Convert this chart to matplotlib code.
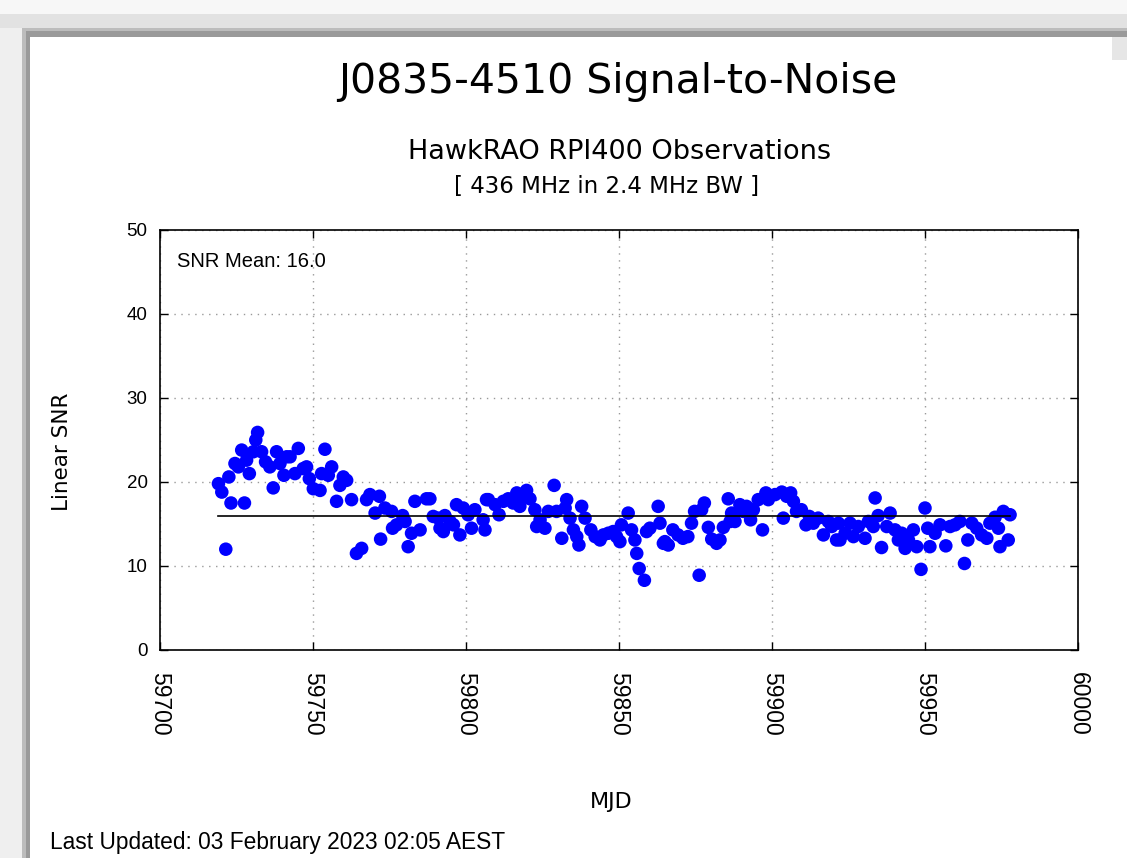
import matplotlib
matplotlib.use("Agg")
import matplotlib.pyplot as plt
from matplotlib.patches import Rectangle

# Observation epochs (MJD) and linear signal-to-noise ratio
mjd = [
    59719.1, 59720.2, 59721.5, 59722.5, 59723.2, 59724.5, 59725.6, 59726.7, 59727.6, 59728.3,
    59729.2, 59730.5, 59731.3, 59731.9, 59733.2, 59734.5, 59735.9, 59737.0, 59738.1, 59739.2,
    59740.5, 59741.4, 59742.5, 59744.1, 59745.2, 59746.8, 59747.9, 59748.8, 59750.1, 59752.3,
    59753.9, 59756.1, 59752.8, 59755.0, 59758.8, 59759.9, 59761.0, 59757.7, 59762.6, 59764.2,
    59765.9, 59767.5, 59768.6, 59770.3, 59771.7, 59772.1, 59773.5, 59775.7, 59776.0, 59777.3,
    59779.3, 59780.1, 59781.1, 59782.2, 59783.3, 59785.0, 59787.1, 59788.2, 59789.3, 59790.9,
    59791.5, 59792.6, 59793.1, 59794.8, 59795.9, 59796.9, 59798.0, 59799.1, 59800.7, 59801.8,
    59802.9, 59805.6, 59806.2, 59806.7, 59807.3, 59809.5, 59810.8, 59812.2, 59813.8, 59815.4,
    59816.6, 59817.6, 59818.7, 59819.8, 59820.9, 59822.5, 59823.1, 59824.2, 59825.8, 59826.9,
    59828.8, 59829.6, 59831.3, 59832.4, 59832.9, 59834.0, 59835.1, 59836.2, 59836.9, 59837.8,
    59838.9, 59840.8, 59842.2, 59843.8, 59844.9, 59846.5, 59848.1, 59849.2, 59850.3, 59850.8,
    59853.0, 59854.1, 59855.2, 59855.8, 59856.6, 59858.3, 59859.0, 59860.1, 59862.8, 59863.4,
    59864.5, 59865.0, 59866.1, 59867.6, 59869.3, 59870.9, 59872.5, 59873.7, 59874.7, 59876.2,
    59877.0, 59877.9, 59879.2, 59880.3, 59881.9, 59883.0, 59884.1, 59885.7, 59886.3, 59886.8,
    59887.9, 59889.5, 59890.6, 59891.7, 59893.0, 59893.9, 59895.5, 59896.9, 59898.0, 59898.8,
    59901.0, 59903.2, 59903.7, 59904.8, 59906.1, 59907.0, 59908.0, 59909.6, 59911.1, 59912.2,
    59913.5, 59915.1, 59916.8, 59918.4, 59919.5, 59921.1, 59921.7, 59922.2, 59923.9, 59925.5,
    59926.6, 59928.2, 59930.4, 59931.5, 59933.1, 59933.7, 59934.7, 59935.8, 59937.5, 59938.6,
    59940.2, 59941.3, 59942.4, 59943.5, 59944.6, 59946.2, 59947.3, 59948.7, 59950.0, 59950.9,
    59951.6, 59953.3, 59954.9, 59956.8, 59958.2, 59959.8, 59961.4, 59962.9, 59964.0, 59965.3,
    59966.9, 59968.5, 59970.2, 59971.2, 59972.9, 59974.0, 59974.5, 59975.6, 59977.2, 59977.8,
]
snr = [
    19.8, 18.8, 12.0, 20.6, 17.5, 22.2, 21.8, 23.8, 17.5, 22.6,
    21.0, 23.6, 25.0, 25.9, 23.6, 22.4, 21.8, 19.3, 23.6, 22.2,
    20.8, 23.0, 23.0, 21.0, 24.0, 21.6, 21.8, 20.4, 19.2, 19.0,
    23.9, 21.8, 21.0, 20.8, 19.6, 20.6, 20.2, 17.7, 17.9, 11.5,
    12.1, 17.9, 18.5, 16.3, 18.3, 13.2, 16.9, 16.5, 14.5, 14.9,
    16.0, 15.3, 12.3, 13.9, 17.7, 14.3, 18.0, 18.0, 15.9, 15.7,
    14.5, 14.1, 16.0, 15.3, 14.9, 17.3, 13.7, 16.9, 16.1, 14.5,
    16.7, 15.5, 14.3, 17.9, 17.9, 17.3, 16.1, 17.7, 18.0, 17.5,
    18.7, 17.1, 18.3, 19.0, 18.0, 16.7, 14.7, 15.5, 14.5, 16.5,
    19.6, 16.5, 13.3, 16.9, 17.9, 15.7, 14.3, 13.5, 12.5, 17.1,
    15.7, 14.3, 13.5, 13.1, 13.7, 13.9, 14.1, 13.5, 12.9, 14.9,
    16.3, 14.3, 13.1, 11.5, 9.7, 8.3, 14.1, 14.5, 17.1, 15.1,
    12.7, 12.9, 12.5, 14.3, 13.7, 13.3, 13.5, 15.1, 16.5, 8.9,
    16.7, 17.5, 14.6, 13.2, 12.7, 13.1, 14.6, 18.0, 15.3, 16.3,
    15.3, 17.3, 16.5, 17.1, 15.5, 16.7, 17.9, 14.3, 18.7, 17.9,
    18.5, 18.8, 15.7, 18.3, 18.7, 17.7, 16.5, 16.7, 14.9, 15.9,
    15.1, 15.7, 13.7, 15.3, 14.7, 13.1, 15.1, 13.1, 13.9, 15.1,
    13.5, 14.7, 13.3, 15.3, 14.7, 18.1, 16.0, 12.2, 14.7, 16.3,
    14.3, 13.1, 13.9, 12.1, 13.1, 14.3, 12.3, 9.6, 16.9, 14.5,
    12.3, 13.9, 14.9, 12.4, 14.7, 14.9, 15.3, 10.3, 13.1, 15.1,
    14.5, 13.7, 13.3, 15.1, 15.8, 14.5, 12.3, 16.5, 13.1, 16.1,
]
snr_mean = 16.0

x_ticks = [59700, 59750, 59800, 59850, 59900, 59950, 60000]
y_ticks = [0, 10, 20, 30, 40, 50]

title = "J0835-4510 Signal-to-Noise"
subtitle = "HawkRAO RPI400 Observations"
band = "[ 436 MHz in 2.4 MHz BW ]"
updated = "Last Updated: 03 February 2023 02:05 AEST"

W, H = 1127, 858
fig = plt.figure(figsize=(W / 100, H / 100), dpi=100, facecolor="white")


def frame_rect(x0, y0, x1, y1, color):
    """Rectangle given in pixel coordinates measured from the top-left corner."""
    fig.patches.append(Rectangle((x0 / W, 1 - y1 / H), (x1 - x0) / W, (y1 - y0) / H,
                                 transform=fig.transFigure, facecolor=color,
                                 edgecolor="none", zorder=-5))


# Window-style frame: light grey surround, darker shadow edge, white page
frame_rect(0, 0, W, H, "#efefef")
frame_rect(0, 0, W, 14, "#f7f7f7")
frame_rect(0, 14, W, 28, "#e2e2e2")
frame_rect(22, 28, W, H, "#bcbcbc")
frame_rect(26, 31, W, H, "#9a9a9a")
frame_rect(30, 37, W, H, "white")
frame_rect(1112, 37, W, 60, "#e6e6e6")

ax = fig.add_axes([160 / W, 1 - 650 / H, (1078 - 160) / W, (650 - 230) / H])
ax.set_facecolor("white")

ax.scatter(mjd, snr, s=95, color="#0000ff", edgecolors="none", zorder=3)
ax.plot([min(mjd), max(mjd)], [snr_mean, snr_mean], color="black", lw=1.2, zorder=4)

ax.set_xlim(59700, 60000)
ax.set_ylim(0, 50)
ax.set_xticks(x_ticks)
ax.set_yticks(y_ticks)
ax.set_xticklabels([str(t) for t in x_ticks], rotation=-90,
                   fontfamily="Liberation Sans", fontsize=16.5)
ax.set_yticklabels([str(t) for t in y_ticks],
                   fontfamily="Liberation Sans", fontsize=13.5)
ax.tick_params(axis="y", direction="in", length=6, width=1, right=True, pad=9)
ax.tick_params(axis="x", direction="in", length=6, width=1, top=True, pad=16)
ax.grid(True, linestyle=(0, (1, 4)), color="#999999", linewidth=1)
for s in ax.spines.values():
    s.set_linewidth(1.2)

ax.text(0.019, 0.947, f"SNR Mean: {snr_mean:.1f}", transform=ax.transAxes,
        ha="left", va="top", fontfamily="Liberation Sans", fontsize=14.5)

fig.text(62 / W, 1 - 452 / H, "Linear SNR", ha="center", va="center", rotation=90,
         fontfamily="DejaVu Sans", fontsize=15.5)
fig.text(611 / W, 1 - 802 / H, "MJD", ha="center", va="center",
         fontfamily="DejaVu Sans", fontsize=16)

fig.text(618 / W, 1 - 82 / H, title, ha="center", va="center",
         fontfamily="DejaVu Sans", fontsize=29.5)
fig.text(620 / W, 1 - 152 / H, subtitle, ha="center", va="center",
         fontfamily="DejaVu Sans", fontsize=19.5)
fig.text(607 / W, 1 - 186 / H, band, ha="center", va="center",
         fontfamily="DejaVu Sans", fontsize=16.5)

fig.text(50 / W, 1 - 843 / H, updated, ha="left", va="center",
         fontfamily="Liberation Sans", fontsize=16.4)

fig.savefig("out.png", dpi=100, facecolor=fig.get_facecolor())
